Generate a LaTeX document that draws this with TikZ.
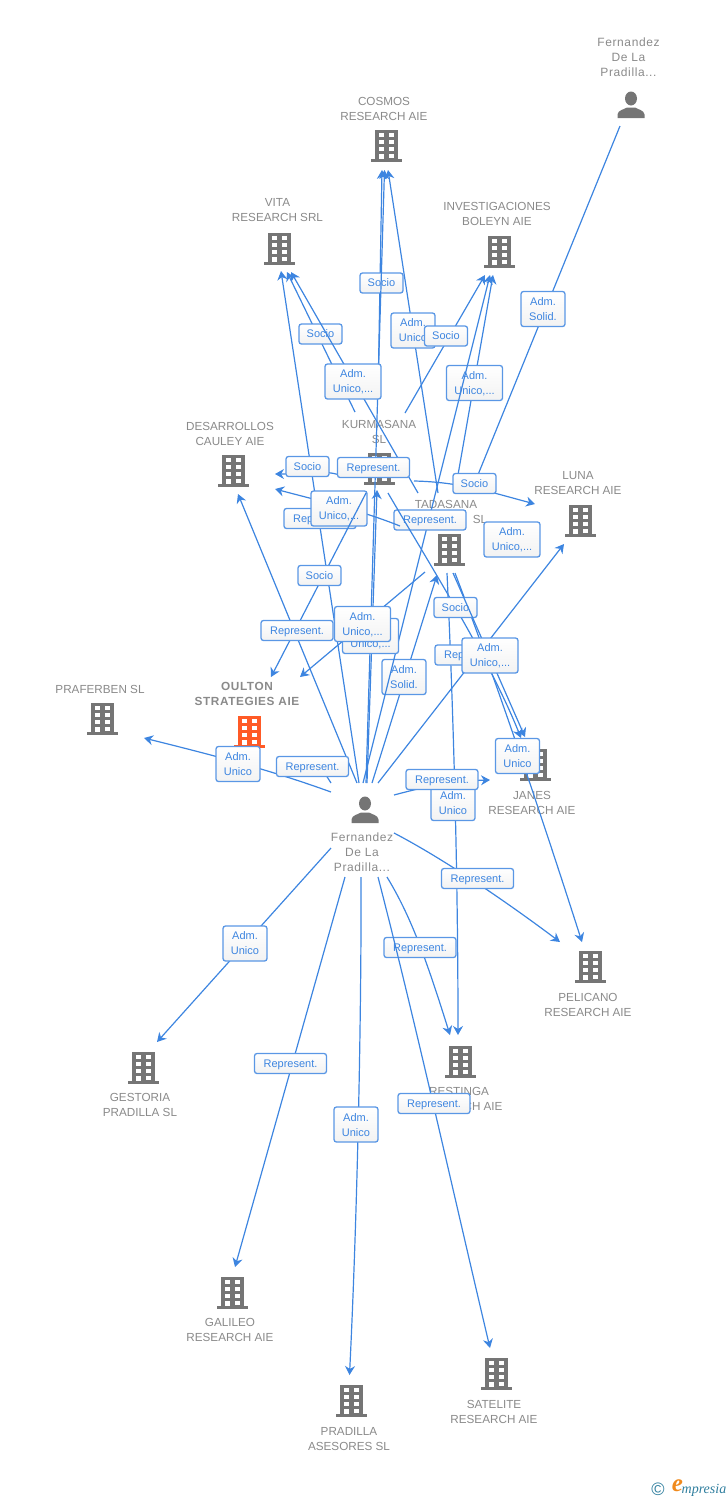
\documentclass[tikz,border=0pt]{standalone}
\usepackage{fontspec}
\setmainfont{Liberation Sans}
\newfontfamily\logofont{Liberation Serif}
\newfontfamily\spacedfont[LetterSpace=5]{Liberation Sans}
\usetikzlibrary{arrows.meta}
\usetikzlibrary{shadings}
\definecolor{linkblue}{HTML}{3D85E0}
\definecolor{bldggray}{HTML}{757575}
\definecolor{bldgorange}{HTML}{FF5A26}
\definecolor{namegray}{HTML}{8A8A8A}
\definecolor{logoteal}{HTML}{2F7E9E}
\definecolor{logoorange}{HTML}{F08A1D}
\tikzset{
  bldg/.pic={
    \fill [pic actions] (-11.5,0) rectangle (11.5,29);
    \fill [pic actions] (-15.5,29) rectangle (15.5,31.5);
    \fill [white] (-7.5,3.3) rectangle (-2.5,7.3);
    \fill [white] (2.5,3.3) rectangle (7.5,7.3);
    \fill [white] (-7.5,10.3) rectangle (-2.5,14.3);
    \fill [white] (2.5,10.3) rectangle (7.5,14.3);
    \fill [white] (-7.5,17) rectangle (-2.5,21);
    \fill [white] (2.5,17) rectangle (7.5,21);
    \fill [white] (-7.5,24) rectangle (-2.5,29);
    \fill [white] (2.5,24) rectangle (7.5,28);
  },
  pers/.pic={
    \fill [bldggray] (0,-6.5) ellipse (6 and 7);
    \fill [bldggray] (-13.5,13) -- (-13.5,9.5) .. controls (-13,5) and (-7,4.5) .. (-4,2.5)
      -- (4,2.5) .. controls (7,4.5) and (13,5) .. (13.5,9.5) -- (13.5,13) -- cycle;
  },
  cname/.style={align=center,text=namegray,font=\fontsize{11.7}{15}\selectfont,inner sep=0pt},
  pname/.style={cname,font=\spacedfont\fontsize{12}{15}\selectfont},
  link/.style={draw=linkblue,line width=1.2pt,-{Stealth[length=9pt,width=10pt]}},
  plain/.style={draw=linkblue,line width=1.2pt},
  lab/.style={draw=linkblue!85,line width=1.3pt,rounded corners=2.5pt,top color=white,bottom color=black!5,
    text=linkblue,align=center,font=\fontsize{11}{15}\selectfont,inner sep=0pt,minimum height=20pt,text depth=0pt},
  repr/.style={lab,minimum width=72pt},
  soc/.style={lab,minimum width=43pt},
  adm/.style={lab,minimum width=44pt,minimum height=35pt},
  admc/.style={lab,minimum width=56pt,minimum height=35pt},
}
\begin{document}
\begin{tikzpicture}[x=1pt,y=-1pt]
\useasboundingbox (0,0) rectangle (728,1500);
% buildings and their names
\pic [fill=bldggray] at (386,130) {bldg};
\pic [fill=bldggray] at (279.5,233) {bldg};
\pic [fill=bldggray] at (499.5,236) {bldg};
\pic [fill=bldggray] at (233,455) {bldg};
\pic [fill=bldggray] at (379.5,453) {bldg};
\pic [fill=bldggray] at (449,534) {bldg};
\pic [fill=bldggray] at (580,505) {bldg};
\pic [fill=bldgorange] at (249.5,716) {bldg};
\pic [fill=bldggray] at (535.5,749) {bldg};
\pic [fill=bldggray] at (102,703) {bldg};
\pic [fill=bldggray] at (590,951) {bldg};
\pic [fill=bldggray] at (460,1046) {bldg};
\pic [fill=bldggray] at (143,1052) {bldg};
\pic [fill=bldggray] at (232,1277) {bldg};
\pic [fill=bldggray] at (351,1385) {bldg};
\pic [fill=bldggray] at (496,1358) {bldg};
\pic at (631,105) {pers};
\pic at (365,810) {pers};
\node [pname] (fernandeztop) at (628.5,57) {Fernandez\\De La\\Pradilla...};
\node [cname] (cosmos) at (384,108.5) {COSMOS\\RESEARCH AIE};
\node [cname] (vita) at (277.5,210.5) {VITA\\RESEARCH SRL};
\node [cname] (boleyn) at (497,213.5) {INVESTIGACIONES\\BOLEYN AIE};
\node [cname] (desarrollos) at (230,433.5) {DESARROLLOS\\CAULEY AIE};
\node [cname] (kurmasana) at (379,431.5) {KURMASANA\\SL};
\node [cname] (tadasana) at (446,504) {TADASANA};
\node [cname] (tadasanasl) at (480,519) {SL};
\node [cname] (luna) at (578,483.5) {LUNA\\RESEARCH AIE};
\node [cname,font=\spacedfont\bfseries\fontsize{11.8}{15}\selectfont] (oulton) at (247,693.5) {OULTON\\STRATEGIES AIE};
\node [cname] (praferben) at (100,689) {PRAFERBEN SL};
\node [cname] (janes) at (532,802.5) {JANES\\RESEARCH AIE};
\node [pname] (fernandez) at (362,852) {Fernandez\\De La\\Pradilla...};
\node [cname] (pelicano) at (588,1004.5) {PELICANO\\RESEARCH AIE};
\node [cname] (restinga) at (459,1098.5) {RESTINGA\\RESEARCH AIE};
\node [cname] (gestoria) at (140,1104.5) {GESTORIA\\PRADILLA SL};
\node [cname] (galileo) at (230,1329.5) {GALILEO\\RESEARCH AIE};
\node [cname] (pradilla) at (349,1439) {PRADILLA\\ASESORES SL};
\node [cname] (satelite) at (494,1411.5) {SATELITE\\RESEARCH AIE};
% line ends near the top person and the upper companies
\coordinate (ptop) at (620,126);
\coordinate (ptad) at (473,487);
\coordinate (kvA) at (355,412);
\coordinate (vitaA) at (287,272);
\coordinate (kcA) at (378,396);
\coordinate (cosA) at (382,170);
\coordinate (tcA) at (438,493);
\coordinate (cosB) at (388,170);
\coordinate (kbA) at (405,413);
\coordinate (bolA) at (485,275);
\coordinate (fcA) at (366,783);
\coordinate (cosC) at (384.5,170);
\coordinate (tvA) at (418,493);
\coordinate (vitaB) at (291,272);
\coordinate (tbA) at (455,492);
\coordinate (bolB) at (493,275);
\coordinate (ftA) at (372,783);
\coordinate (tadA) at (437,575);
\coordinate (fbA) at (363,783);
\coordinate (bolC) at (490,275);
\coordinate (fvA) at (359,783);
\coordinate (vitaC) at (281,271);
\coordinate (kdA) at (345,477);
\coordinate (desA) at (275,474);
\coordinate (tdA) at (400,526);
\coordinate (desB) at (275,489);
\coordinate (klA) at (414,481);
\coordinate (lunA) at (535,504);
\coordinate (koA) at (366,493);
\coordinate (oulA) at (271,677);
\coordinate (fdA) at (357,783);
\coordinate (desC) at (238,494);
\coordinate (fkA) at (367,783);
\coordinate (kurA) at (377,490);
\coordinate (toA) at (425,572);
\coordinate (oulB) at (300,677);
\coordinate (kjA) at (388,493);
\coordinate (janA) at (521,738);
\coordinate (flA) at (378,783);
\coordinate (lunB) at (564,544);
\coordinate (tjA) at (453,573);
\coordinate (janB) at (525,737);
\coordinate (tpA) at (455,573);
\coordinate (pelA) at (582,942);
\coordinate (trA) at (447,573);
\coordinate (resA) at (458,1035);
% line ends around the central person
\coordinate (fjA) at (394,795);
\coordinate (janC) at (490,780);
\coordinate (fpA) at (394,833);
\coordinate (pelB) at (560,942);
\coordinate (foA) at (331,783);
\coordinate (foB) at (324,772);
\coordinate (fprA) at (331,792);
\coordinate (praA) at (144,738);
\coordinate (fgA) at (331,848);
\coordinate (gesA) at (157,1042);
\coordinate (fgB) at (345,877);
\coordinate (galA) at (235,1267);
\coordinate (fpdA) at (361,877);
\coordinate (padA) at (349.5,1375);
\coordinate (fsA) at (378,877);
\coordinate (satA) at (490,1348);
\coordinate (frA) at (387,877);
\coordinate (resB) at (450,1035);
% connectors, each followed by its label
\draw [link] (ptop) -- (ptad);
\node [adm] (lab1) at (543,309) {Adm.~\\Solid.};
\draw [link] (kvA) -- (vitaA);
\node [soc] (lab2) at (320.5,334) {Socio};
\draw [link] (kcA) -- (cosA);
\node [soc] (lab3) at (381.5,283) {Socio};
\draw [link] (tcA) -- (cosB);
\node [adm] (lab4) at (413,330.5) {Adm.~\\Unico};
\draw [link] (kbA) -- (bolA);
\node [soc] (lab5) at (446,336) {Socio};
\draw [link] (fcA) -- (cosC);
\draw [link] (tvA) -- (vitaB);
\node [admc] (lab6) at (353,381.5) {Adm.~\\Unico,...};
\draw [link] (tbA) -- (bolB);
\node [admc] (lab7) at (474.5,383) {Adm.~\\Unico,...};
\draw [link] (ftA) -- (tadA);
\node [adm] (lab8) at (404,677) {Adm.~\\Solid.};
\draw [link] (fbA) -- (bolC);
\node [repr] (lab9) at (430,520) {Represent.};
\draw [link] (fvA) -- (vitaC);
\node [repr] (lab10) at (320,518.5) {Represent.};
\draw [link] (kdA) .. controls (325,468) and (300,474) .. (desA);
\node [soc] (lab11) at (307.5,466.5) {Socio};
\node [repr] (lab12) at (373.5,467.5) {Represent.};
\draw [link] (tdA) .. controls (360,510) and (320,501) .. (desB);
\node [admc] (lab13) at (339,508.5) {Adm.~\\Unico,...};
\draw [link] (klA) .. controls (460,482) and (490,492) .. (lunA);
\node [soc] (lab14) at (474.5,483.5) {Socio};
\node [admc] (lab15) at (512,539.5) {Adm.~\\Unico,...};
\draw [link] (koA) -- (oulA);
\node [soc] (lab16) at (319.5,575.5) {Socio};
\draw [link] (fdA) -- (desC);
\node [repr] (lab17) at (297,630.5) {Represent.};
\draw [link] (fkA) -- (kurA);
\node [admc] (lab18) at (370.5,636) {Adm.~\\Unico,...};
\draw [link] (toA) -- (oulB);
\node [admc] (lab19) at (362.5,624) {Adm.~\\Unico,...};
\draw [link] (tpA) .. controls (490,665) and (530,780) .. (pelA);
\draw [link] (trA) .. controls (452,680) and (458,850) .. (resA);
\draw [link] (kjA) .. controls (430,565) and (490,660) .. (janA);
\node [soc] (lab20) at (455.5,607.5) {Socio};
\draw [link] (flA) -- (lunB);
\node [repr] (lab21) at (471,655) {Represent.};
\draw [link] (tjA) -- (janB);
\node [admc] (lab22) at (490,655.5) {Adm.~\\Unico,...};
\node [adm] (lab23) at (453,803) {Adm.~\\Unico};
\node [adm] (lab24) at (517.5,756) {Adm.~\\Unico};
\draw [link] (fjA) .. controls (420,788) and (450,781) .. (janC);
\node [repr] (lab25) at (442,779.5) {Represent.};
\draw [link] (fprA) .. controls (270,770) and (220,757) .. (praA);
\node [adm] (lab26) at (238,764) {Adm.~\\Unico};
\draw [plain] (foA) -- (foB);
\node [repr] (lab27) at (312.5,766.5) {Represent.};
\draw [link] (fpA) .. controls (440,857) and (500,897) .. (pelB);
\node [repr] (lab28) at (477.5,878.5) {Represent.};
\draw [link] (frA) .. controls (410,915) and (425,955) .. (resB);
\node [repr] (lab29) at (420,947.5) {Represent.};
\draw [link] (fgA) -- (gesA);
\node [adm] (lab30) at (245,943.5) {Adm.~\\Unico};
\draw [link] (fgB) -- (galA);
\node [repr] (lab31) at (290.5,1063.5) {Represent.};
\draw [link] (fpdA) .. controls (361.5,1000) and (358,1200) .. (padA);
\node [adm] (lab32) at (356,1124.5) {Adm.~\\Unico};
\draw [link] (fsA) .. controls (415,1020) and (455,1200) .. (satA);
\node [repr] (lab33) at (434,1103.5) {Represent.};
% logo
\node [text=logoteal,font=\fontsize{18}{18}\selectfont,inner sep=0pt] (logocopy) at (658,1489) {©};
\node [text=logoorange,font=\logofont\itshape\bfseries\fontsize{25}{25}\selectfont,inner sep=0pt] (logoe) at (677.5,1486) {e};
\node [text=logoteal,font=\logofont\itshape\fontsize{14}{14}\selectfont,inner sep=0pt] (logotext) at (704,1490) {mpresia};
\end{tikzpicture}
\end{document}
